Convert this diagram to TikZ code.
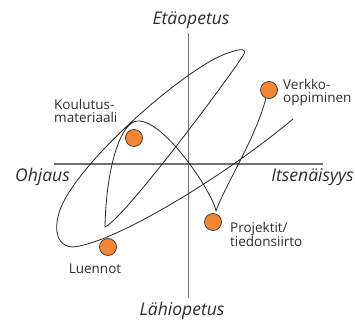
\documentclass[tikz,border=0pt]{standalone}
\usepackage{fontspec}
\setmainfont{Open Sans}
\definecolor{dotorange}{RGB}{245,134,52}
\definecolor{axisgray}{RGB}{112,112,112}
\definecolor{labelgray}{RGB}{45,45,45}

\begin{document}
\begin{tikzpicture}[x=1pt, y=-1pt,
    axis/.style={draw=axisgray, line width=1.1pt},
    trail/.style={draw=black!85, line width=0.8pt, line join=round},
    dot/.style={circle, draw=black!80, line width=0.7pt, fill=dotorange,
                minimum size=17pt, inner sep=0pt},
    axlab/.style={font=\fontsize{17.5}{17.5}\selectfont\itshape, text=labelgray, inner sep=0pt},
    tlab/.style={font=\fontsize{13.5}{13.5}\selectfont, text=labelgray,
                 align=left, inner sep=0pt},
]
\useasboundingbox (0,0) rectangle (355,320);

% ================= axes =================
\coordinate (ytop) at (188.7,33);
\coordinate (ybot) at (188.7,298);
\coordinate (xleft) at (54,164);
\coordinate (xright) at (323,164);
\draw[axis] (ytop) -- (ybot);
\draw[axis] (xleft) -- (xright);

\node[axlab, anchor=base] (eta) at (191,25) {Etäopetus};
\node[axlab, anchor=base] (lahi) at (182,315.5) {Lähiopetus};
\node[axlab, anchor=base west] (ohj) at (15,182) {Ohjaus};
\node[axlab, anchor=base east] (its) at (354,182) {Itsenäisyys};

% ================= curve =================
\coordinate (c0) at (266,98);
\coordinate (v1) at (216,211);
\coordinate (peak) at (138,121);
\coordinate (v2) at (105,227);
\coordinate (tip) at (244,54);
\coordinate (e1) at (228,53);
\coordinate (e2) at (62,205);
\coordinate (e3) at (72,247);
\coordinate (c9) at (293,119);

\draw[trail] (c0) .. controls (255,140) and (225,185) .. (v1)
    .. controls (214,195) and (165,120) .. (peak)
    .. controls (120,121) and (106,170) .. (v2)
    .. controls (125,218) and (235,70) .. (tip)
    .. controls (247,47) and (236,50) .. (e1)
    .. controls (190,65) and (85,155) .. (e2)
    .. controls (55,220) and (52,245) .. (e3)
    .. controls (110,245) and (220,180) .. (c9);

% ================= dots =================
\node[dot] (koul) at (134,138) {};
\node[dot] (verk) at (269,90) {};
\node[dot] (proj) at (213,222) {};
\node[dot] (luen) at (108,247) {};

\node[tlab, anchor=base west] (koul_t) at (54,123) {Koulutus-\\materiaali};
\node[tlab, anchor=base west] (verk_t) at (283,103) {Verkko-\\oppiminen};
\node[tlab, anchor=base west] (proj_t) at (230,246) {Projektit/\\tiedonsiirto};
\node[tlab, anchor=base] (luen_t) at (95,273) {Luennot};

\end{tikzpicture}
\end{document}
